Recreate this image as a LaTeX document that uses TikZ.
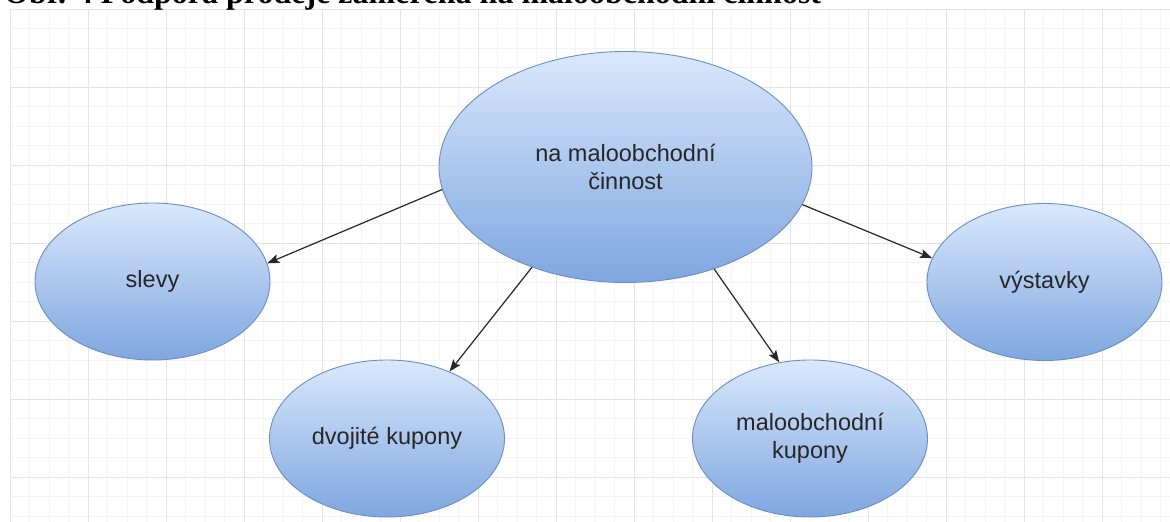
\documentclass[tikz,border=0pt]{standalone}
\usepackage{fontspec}
\setmainfont{Liberation Sans}
\newfontfamily\titlefont{Liberation Serif}
\usetikzlibrary{arrows.meta,shapes.geometric}
\definecolor{bubbletop}{HTML}{DAE8FC}
\definecolor{bubblebot}{HTML}{7EA6E0}
\definecolor{bubbleedge}{HTML}{6C8EBF}
\definecolor{gridminor}{HTML}{F4F4F4}
\definecolor{gridmajor}{HTML}{E4E4E4}

\begin{document}
\begin{tikzpicture}[x=1pt,y=-1pt,>={Stealth[length=12pt,width=9pt,inset=2.5pt]},
bubble/.style={ellipse,draw=bubbleedge,line width=0.9pt,top color=bubbletop,bottom color=bubblebot,minimum width=235pt,minimum height=157pt,inner sep=0pt,align=center,font=\fontsize{23.5}{27.5}\selectfont,text=black!85},
link/.style={->,line width=1.2pt,black!85}]
\clip (0,0) rectangle (1170,522);
\fill[white] (0,0) rectangle (1170,522);
% grid
\foreach \gx in {10,29.5,...,1170} \draw[gridminor,line width=0.8pt] (\gx,9) -- (\gx,522);
\foreach \gy in {9,28.5,...,522} \draw[gridminor,line width=0.8pt] (10,\gy) -- (1170,\gy);
\foreach \gx in {10,88,...,1170} \draw[gridmajor,line width=1pt] (\gx,9) -- (\gx,522);
\foreach \gy in {9,87,...,522} \draw[gridmajor,line width=1pt] (10,\gy) -- (1170,\gy);
% caption, cut off at the top
\node[anchor=base west,inner sep=0pt,font=\titlefont\bfseries\fontsize{32}{36}\selectfont] (title) at (4,4) {Obr. 4 Podpora prodeje zaměřená na maloobchodní činnost};
\node[bubble,minimum width=373pt,minimum height=231pt] (main) at (625.5,167) {na maloobchodní\\činnost};
\node[bubble] (slevy) at (152.5,281.5) {slevy};
\node[bubble] (dvojite) at (387,438.5) {dvojité kupony};
\node[bubble] (kupony) at (810,438.5) {maloobchodní\\kupony};
\node[bubble] (vystavky) at (1044.5,282) {výstavky};
\draw[link] (main.187) -- (slevy.9);
\draw[link] (main.227) -- (dvojite.47);
\draw[link] (main.311) -- (kupony.112);
\draw[link] (main.348) -- (vystavky.168);
\end{tikzpicture}
\end{document}
